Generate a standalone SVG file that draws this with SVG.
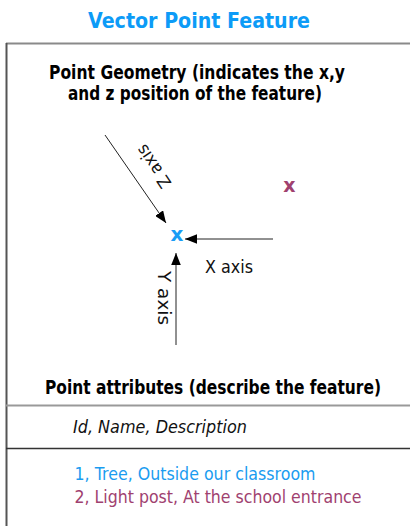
<svg xmlns="http://www.w3.org/2000/svg" width="410" height="526" viewBox="0 0 410 526">
<defs>
<style>
.b{font-family:"DejaVu Sans","Liberation Sans",sans-serif;font-weight:bold;fill:#000}
.r{font-family:"DejaVu Sans","Liberation Sans",sans-serif;fill:#111}
.ax{stroke:#222;stroke-width:1;fill:none}
</style>
<marker id="ah" viewBox="0 0 10 8" refX="10" refY="4" markerWidth="12" markerHeight="9.6" markerUnits="userSpaceOnUse" orient="auto">
<path d="M0,0 L10,4 L0,8 Z" fill="#000"/>
</marker>
</defs>
<rect width="410" height="526" fill="#fff"/>
<g id="title">
<text x="88" y="28" class="b" style="fill:#0c9bf7" font-size="21" textLength="222" lengthAdjust="spacingAndGlyphs">Vector Point Feature</text>
</g>
<g id="frame">
<line x1="6" y1="43.5" x2="410" y2="43.5" stroke="#8a8a8a" stroke-width="2"/>
<line x1="6.5" y1="43" x2="6.5" y2="526" stroke="#555" stroke-width="2"/>
<line x1="6" y1="405.5" x2="410" y2="405.5" stroke="#999" stroke-width="2"/>
<line x1="6" y1="448.5" x2="410" y2="448.5" stroke="#333" stroke-width="1.5"/>
</g>
<g id="geometry-heading">
<text x="49" y="78.5" class="b" font-size="19" textLength="296" lengthAdjust="spacingAndGlyphs">Point Geometry (indicates the x,y</text>
<text x="68" y="100" class="b" font-size="19" textLength="254" lengthAdjust="spacingAndGlyphs">and z position of the feature)</text>
</g>
<g id="connectors">
<line x1="105" y1="135" x2="166" y2="223" class="ax" marker-end="url(#ah)"/>
<line x1="273" y1="239" x2="185" y2="239" class="ax" marker-end="url(#ah)"/>
<line x1="176" y1="345" x2="176" y2="253" class="ax" marker-end="url(#ah)"/>
</g>
<g id="axis-labels">
<text class="r" font-size="17" transform="translate(172,183) rotate(236)" textLength="48" lengthAdjust="spacingAndGlyphs">Z axis</text>
<text x="205" y="273" class="r" font-size="17" textLength="48" lengthAdjust="spacingAndGlyphs">X axis</text>
<text class="r" font-size="17" transform="translate(158,271) rotate(90)" textLength="54" lengthAdjust="spacingAndGlyphs">Y axis</text>
</g>
<g id="point-1">
<text x="177" y="241" class="b" style="fill:#1a9cf5" font-size="20" text-anchor="middle">x</text>
</g>
<g id="point-2">
<text x="289.5" y="192" class="b" style="fill:#a0416f" font-size="19" text-anchor="middle">x</text>
</g>
<g id="attributes-heading">
<text x="45" y="393.5" class="b" font-size="19" textLength="336" lengthAdjust="spacingAndGlyphs">Point attributes (describe the feature)</text>
</g>
<g id="attribute-fields">
<text x="73" y="432.5" class="r" font-style="italic" font-size="17" textLength="174" lengthAdjust="spacingAndGlyphs">Id, Name, Description</text>
</g>
<g id="attribute-values">
<text x="74.5" y="479.5" class="r" style="fill:#1a9cf0" font-size="17" textLength="241" lengthAdjust="spacingAndGlyphs">1, Tree, Outside our classroom</text>
<text x="74.5" y="502.5" class="r" style="fill:#a0416f" font-size="17" textLength="287" lengthAdjust="spacingAndGlyphs">2, Light post, At the school entrance</text>
</g>
</svg>
